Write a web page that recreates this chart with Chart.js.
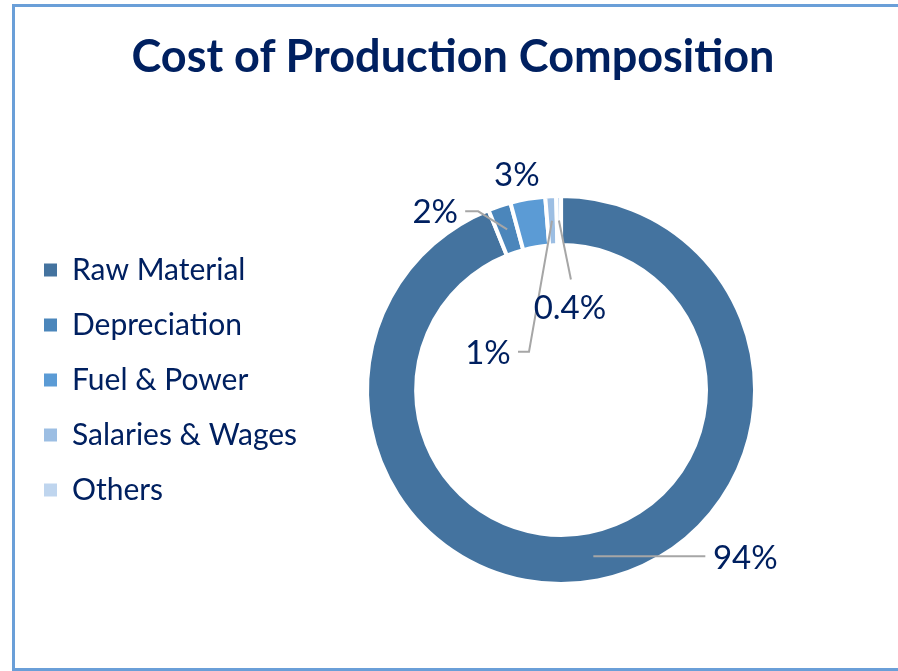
<!DOCTYPE html>
<html>
<head>
<meta charset="utf-8">
<title>Cost of Production Composition</title>
<script src="https://cdn.jsdelivr.net/npm/chart.js@4.4.1/dist/chart.umd.min.js"></script>
<style>
  html, body { margin: 0; padding: 0; background: #fff; overflow: hidden; }
  #frame { position: absolute; left: 12px; top: 4px; width: 900px; height: 661px; border: 3px solid #6a9fd8; }
  #costChart { display: block; }
  h1 {
    position: absolute; left: 0; top: 28px; width: 906px; margin: 0;
    font: bold 45px/54px Lato, sans-serif; color: #002060; text-align: center;
  }
</style>
</head>
<body>
<div id="frame"><canvas id="costChart" width="885" height="661"></canvas></div>
<h1>Cost of Production Composition</h1>
<script>
const categories = ["Raw Material", "Depreciation", "Fuel & Power", "Salaries & Wages", "Others"];
const shares = [93.9, 1.9, 2.9, 0.9, 0.4];

const sliceColors = ["#44739f", "#4b86bb", "#5b9bd5", "#9cbee3", "#bfd5ee"];
const textColor = "#002060";

// where each % label sits, relative to the middle of its slice
const labelOffsets = [[152, 2], [-72, -17], [-15, -48], [-64, 133], [11, 88]];
// leader line bends, relative to the middle of the slice
const leaderPoints = [[[112, 0]], [[-29, -18], [-42, -18]], [], [[-23, 131], [-34, 131]], [[12, 59]]];

function formatShare(v) {
    return v >= 0.5 ? Math.round(v) + "%" : v.toFixed(1) + "%";
}

const sliceLabels = {
    id: "sliceLabels",
    afterDatasetsDraw(chart) {
        const ctx = chart.ctx;
        const arcs = chart.getDatasetMeta(0).data;
        ctx.save();
        ctx.font = "33px Lato";
        ctx.fillStyle = textColor;
        ctx.textAlign = "center";
        ctx.textBaseline = "middle";
        ctx.strokeStyle = "#a6a6a6";
        ctx.lineWidth = 2;
        arcs.forEach((arc, i) => {
            const p = arc.getProps(["x", "y", "startAngle", "endAngle", "innerRadius", "outerRadius"], true);
            const mid = (p.startAngle + p.endAngle) / 2;
            const r = (p.innerRadius + p.outerRadius) / 2;
            const ax = p.x + Math.cos(mid) * r;
            const ay = p.y + Math.sin(mid) * r;
            const path = leaderPoints[i];
            if (path.length) {
                ctx.beginPath();
                ctx.moveTo(ax, ay);
                path.forEach(([dx, dy]) => ctx.lineTo(ax + dx, ay + dy));
                ctx.stroke();
            }
            ctx.fillText(formatShare(shares[i]), ax + labelOffsets[i][0], ay + labelOffsets[i][1]);
        });
        ctx.restore();
    }
};

const baseLabels = Chart.overrides.doughnut.plugins.legend.labels.generateLabels;

new Chart(document.getElementById("costChart"), {
    type: "doughnut",
    data: {
        labels: categories,
        datasets: [{
            data: shares,
            backgroundColor: sliceColors,
            borderColor: "#ffffff",
            borderWidth: 4,
            clip: false
        }]
    },
    options: {
        responsive: false,
        animation: false,
        events: [],
        radius: 194,
        cutout: "74.7%",
        layout: { padding: { left: 4, right: 85, top: 223, bottom: 118 } },
        plugins: {
            legend: {
                position: "left",
                align: "start",
                fullSize: false,
                labels: {
                    color: textColor,
                    font: { family: "Lato", size: 30 },
                    boxWidth: 13,
                    boxHeight: 13,
                    padding: 25,
                    generateLabels: chart => baseLabels(chart).map(l => ({ ...l, lineWidth: 0 }))
                }
            },
            tooltip: { enabled: false }
        }
    },
    plugins: [sliceLabels]
});
</script>
</body>
</html>
